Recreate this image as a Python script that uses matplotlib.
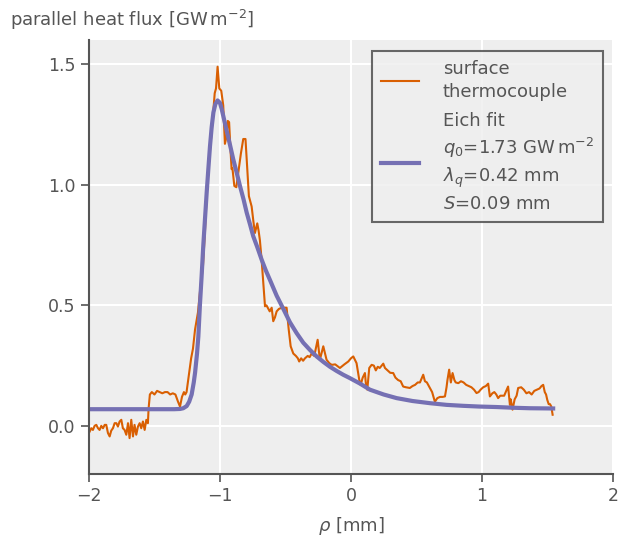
import matplotlib
matplotlib.use("Agg")
import matplotlib.pyplot as plt

plt.rcParams['font.family'] = ['DejaVu Sans']
plt.rcParams['mathtext.fontset'] = 'dejavusans'

TXT = '#555555'

# ---- data: surface thermocouple ----
tc_x = [-1.995, -1.982, -1.970, -1.957, -1.944, -1.931, -1.919, -1.906, -1.893, -1.880,
        -1.868, -1.855, -1.842, -1.830, -1.817, -1.804, -1.791, -1.779, -1.766, -1.753,
        -1.741, -1.728, -1.715, -1.702, -1.690, -1.677, -1.664, -1.652, -1.639, -1.626,
        -1.613, -1.601, -1.588, -1.575, -1.562, -1.550,
        -1.545, -1.535, -1.52, -1.50, -1.48, -1.46, -1.44, -1.42, -1.40, -1.38, -1.36, -1.34,
        -1.32, -1.305, -1.29, -1.275, -1.265, -1.255, -1.24, -1.22, -1.206, -1.19, -1.168,
        -1.15, -1.13, -1.115, -1.10, -1.08, -1.06, -1.04, -1.03, -1.018, -1.005, -0.99,
        -0.975, -0.962, -0.95, -0.94, -0.93, -0.92, -0.911, -0.905, -0.89, -0.875, -0.86,
        -0.84, -0.822, -0.805, -0.795, -0.779, -0.758, -0.745, -0.733, -0.715, -0.705,
        -0.695, -0.682, -0.67, -0.656, -0.645, -0.635, -0.62, -0.605, -0.593, -0.58,
        -0.567, -0.55, -0.529, -0.51, -0.491, -0.475, -0.46, -0.44, -0.42, -0.405, -0.395,
        -0.38, -0.365, -0.351, -0.33, -0.315, -0.30, -0.28, -0.254, -0.237, -0.211, -0.186,
        -0.165, -0.147, -0.12, -0.084, -0.05, -0.02, 0.0, 0.018, 0.043, 0.064, 0.074, 0.09,
        0.107, 0.115, 0.125, 0.14, 0.158, 0.175, 0.19, 0.205, 0.22, 0.235, 0.247, 0.26,
        0.28, 0.30, 0.323, 0.34, 0.36, 0.38, 0.399, 0.42, 0.45, 0.47, 0.49, 0.51, 0.527,
        0.552, 0.565, 0.58, 0.60, 0.62, 0.641, 0.66, 0.68, 0.70, 0.718, 0.73, 0.737, 0.75,
        0.763, 0.776, 0.79, 0.80, 0.82, 0.84, 0.86, 0.88, 0.90, 0.92, 0.94, 0.959, 0.975,
        0.99, 1.01, 1.03, 1.048, 1.061, 1.08, 1.095, 1.11, 1.124, 1.14, 1.17, 1.20, 1.214,
        1.22, 1.234, 1.25, 1.265, 1.277, 1.30, 1.32, 1.34, 1.36, 1.38, 1.40, 1.42, 1.44,
        1.455, 1.468, 1.48, 1.49, 1.499, 1.51, 1.52, 1.53, 1.54]
tc_q = [-0.024, -0.010, -0.017, 0.000, 0.004, -0.010, -0.017, 0.000, -0.010, 0.004,
        0.004, -0.030, -0.044, -0.020, -0.010, 0.011, 0.011, -0.003, 0.018, 0.025,
        -0.010, -0.017, -0.037, 0.011, -0.051, 0.025, -0.044, 0.004, -0.037, -0.003,
        0.011, -0.010, 0.018, -0.017, 0.025, 0.011,
        0.07, 0.13, 0.14, 0.13, 0.145, 0.14, 0.135, 0.14, 0.14, 0.13, 0.135, 0.13,
        0.10, 0.08, 0.12, 0.14, 0.13, 0.14, 0.20, 0.28, 0.32, 0.40, 0.47,
        0.57, 0.66, 0.80, 0.97, 1.12, 1.24, 1.38, 1.40, 1.49, 1.40, 1.39,
        1.33, 1.17, 1.20, 1.265, 1.26, 1.15, 1.065, 1.07, 0.995, 0.99, 1.05,
        1.13, 1.19, 1.19, 1.10, 0.953, 0.91, 0.85, 0.80, 0.84, 0.81,
        0.77, 0.69, 0.60, 0.496, 0.50, 0.49, 0.475, 0.49, 0.434, 0.45,
        0.475, 0.485, 0.49, 0.49, 0.49, 0.40, 0.33, 0.30, 0.29, 0.28, 0.267,
        0.28, 0.27, 0.28, 0.29, 0.285, 0.30, 0.29, 0.357, 0.274, 0.33, 0.274,
        0.26, 0.253, 0.255, 0.24, 0.255, 0.267, 0.28, 0.288, 0.26, 0.19, 0.17, 0.20,
        0.219, 0.17, 0.15, 0.24, 0.253, 0.25, 0.23, 0.245, 0.24, 0.25, 0.258, 0.24,
        0.23, 0.22, 0.219, 0.20, 0.19, 0.185, 0.163, 0.16, 0.157, 0.165, 0.17, 0.18, 0.18,
        0.212, 0.185, 0.18, 0.16, 0.14, 0.10, 0.115, 0.12, 0.12, 0.122, 0.16, 0.19, 0.233,
        0.18, 0.219, 0.19, 0.18, 0.177, 0.185, 0.18, 0.17, 0.165, 0.16, 0.15, 0.136, 0.14,
        0.15, 0.16, 0.165, 0.175, 0.122, 0.135, 0.14, 0.13, 0.115, 0.125, 0.125, 0.163, 0.087,
        0.11, 0.067, 0.11, 0.125, 0.157, 0.16, 0.15, 0.135, 0.14, 0.13, 0.145, 0.15, 0.155,
        0.165, 0.17, 0.14, 0.13, 0.108, 0.09, 0.09, 0.08, 0.046]

# ---- data: Eich fit curve ----
fit_x = [-2.0, -1.5, -1.35, -1.305, -1.28, -1.254, -1.235, -1.216, -1.2, -1.19, -1.175,
         -1.165, -1.153, -1.14, -1.127, -1.114, -1.101, -1.088, -1.076, -1.063, -1.05,
         -1.035, -1.018, -1.0, -0.987, -0.968, -0.949, -0.923, -0.898, -0.872, -0.847,
         -0.82, -0.796, -0.77, -0.746, -0.714, -0.682, -0.65, -0.618, -0.567, -0.516,
         -0.466, -0.415, -0.364, -0.313, -0.262, -0.21, -0.16, -0.11, -0.059, -0.008,
         0.07, 0.145, 0.25, 0.349, 0.47, 0.603, 0.73, 0.857, 0.98, 1.112, 1.24, 1.366, 1.544]
fit_q = [0.069, 0.069, 0.069, 0.070, 0.073, 0.082, 0.10, 0.13, 0.18, 0.22, 0.30,
         0.37, 0.50, 0.62, 0.75, 0.86, 0.97, 1.07, 1.16, 1.24, 1.30,
         1.335, 1.35, 1.34, 1.315, 1.27, 1.225, 1.165, 1.105, 1.05, 0.995,
         0.94, 0.885, 0.835, 0.787, 0.74, 0.69, 0.645, 0.605, 0.54, 0.485,
         0.43, 0.385, 0.345, 0.315, 0.288, 0.265, 0.245, 0.228, 0.212, 0.198,
         0.175, 0.15, 0.13, 0.115, 0.103, 0.094, 0.087, 0.083, 0.08, 0.078, 0.075, 0.073, 0.072]

x_ticks = [-2, -1, 0, 1, 2]
y_ticks = [0.0, 0.5, 1.0, 1.5]
tc_label = 'surface\nthermocouple'
fit_label = 'Eich fit\n$q_0$=1.73 GW$\\,$m$^{-2}$\n$\\lambda_q$=0.42 mm\n$S$=0.09 mm'

fig = plt.figure(figsize=(6.2, 5.43), dpi=100)
ax = fig.add_axes([0.1435, 0.127, 0.845, 0.799])
ax.set_facecolor('#eeeeee')
ax.grid(True, color='white', linewidth=1.5)
ax.set_axisbelow(True)

ax.plot(tc_x, tc_q, color='#d95f02', lw=1.5, label=tc_label)
ax.plot(fit_x, fit_q, color='#7570b3', lw=3, label=fit_label)

ax.set_xlim(-2, 2)
ax.set_ylim(-0.2, 1.6)
ax.set_xticks(x_ticks)
ax.set_yticks(y_ticks)
ax.set_yticklabels(['0.0', '0.5', '1.0', '1.5'])
ax.set_xticklabels(['\u22122', '\u22121', '0', '1', '2'])
for s in ['top', 'right']:
    ax.spines[s].set_visible(False)
for s in ['left', 'bottom']:
    ax.spines[s].set_color('#555555')
    ax.spines[s].set_linewidth(1.5)
ax.tick_params(colors='#555555', labelcolor=TXT, labelsize=12.5, width=1.2, length=6, direction='out')

ax.set_xlabel('$\\rho$ [mm]', fontsize=13, color=TXT, labelpad=7)
fig.text(10/620, 1-20/543, 'parallel heat flux [GW$\\,$m$^{-2}$]', fontsize=13,
         color=TXT, ha='left', va='center')

leg = ax.legend(loc='upper right', bbox_to_anchor=(0.981, 0.975), borderaxespad=0,
                fontsize=13, frameon=True, fancybox=False, handlelength=2.1,
                handletextpad=1.3, labelspacing=0.6, borderpad=0.5)
leg.get_frame().set_edgecolor('#444444')
leg.get_frame().set_facecolor('#eeeeee')
leg.get_frame().set_linewidth(1.5)
for t in leg.get_texts():
    t.set_color(TXT)
    t.set_linespacing(1.35)

fig.savefig('out.png', dpi=100)
